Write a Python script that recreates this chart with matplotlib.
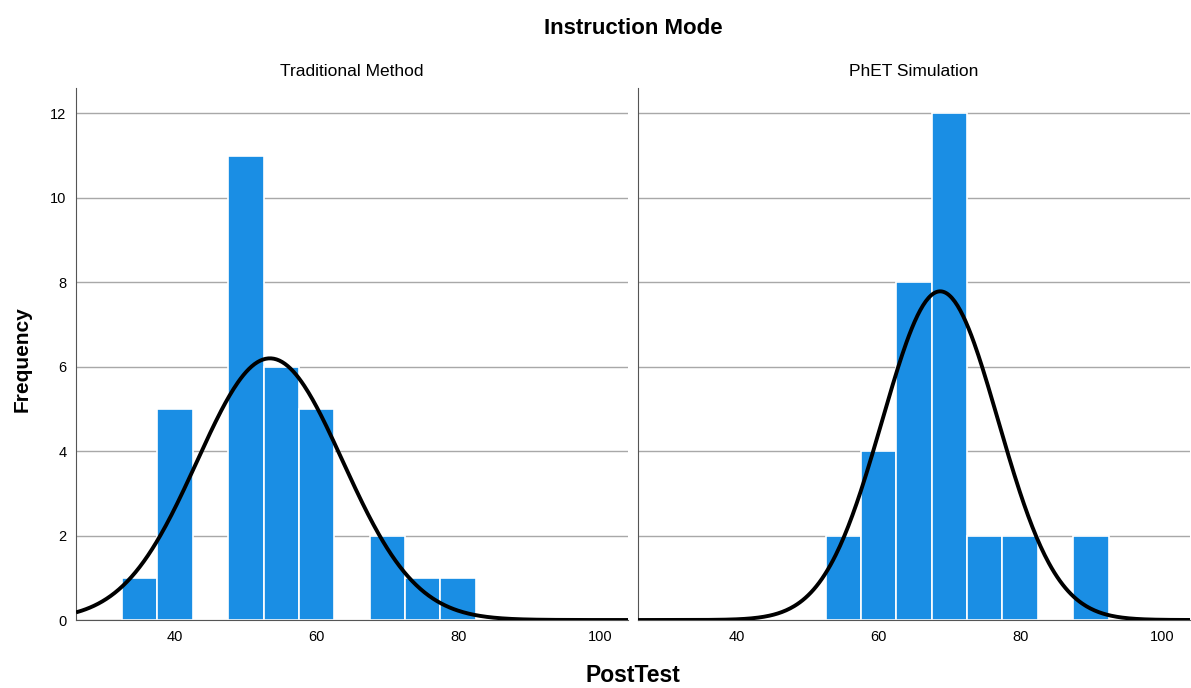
import numpy as np
import matplotlib.pyplot as plt

# DATA
bin_centers = [35, 40, 45, 50, 55, 60, 65, 70, 75, 80, 85, 90]
freq_traditional = [1, 5, 0, 11, 6, 5, 0, 2, 1, 1, 0, 0]
freq_phet = [0, 0, 0, 0, 2, 4, 8, 12, 2, 2, 0, 2]
panel_titles = ["Traditional Method", "PhET Simulation"]
# fitted normal curve parameters (mean, sd)
curve_mean = [53.4, 68.7]
curve_sd = [10.3, 8.2]
x_ticks = [40, 60, 80, 100]
y_ticks = [0, 2, 4, 6, 8, 10, 12]
bin_width = 5

plt.rcParams['font.family'] = ['Liberation Sans', 'DejaVu Sans']

BAR_COLOR = '#1a8ee4'

fig = plt.figure(figsize=(11.91, 6.88), dpi=100)

ax_left = fig.add_axes([76 / 1191, 1 - 620 / 688, 552 / 1191, 532 / 688])
ax_right = fig.add_axes([638 / 1191, 1 - 620 / 688, 552 / 1191, 532 / 688])

for i, (ax, freqs) in enumerate(zip([ax_left, ax_right], [freq_traditional, freq_phet])):
    n_total = sum(freqs)

    ax.set_axisbelow(True)
    ax.grid(axis='y', color='#a8a8a8', linewidth=1)

    ax.bar(
        bin_centers,
        freqs,
        width=bin_width,
        color=BAR_COLOR,
        edgecolor='white',
        linewidth=1.2,
        zorder=2
    )

    xs = np.linspace(26, 104, 400)
    ys = n_total * bin_width / (curve_sd[i] * np.sqrt(2 * np.pi)) * np.exp(
        -0.5 * ((xs - curve_mean[i]) / curve_sd[i]) ** 2
    )
    ax.plot(xs, ys, color='black', linewidth=2.8, zorder=3, solid_capstyle='butt')

    ax.set_xlim(26, 104)
    ax.set_ylim(0, 12.6)
    ax.set_xticks(x_ticks)
    ax.set_yticks(y_ticks)
    ax.tick_params(length=0, labelsize=10.5, pad=7)

    for side in ['top', 'right']:
        ax.spines[side].set_visible(False)
    ax.spines['left'].set_color('#555555')
    ax.spines['bottom'].set_color('#555555')

    ax.set_title(panel_titles[i], fontsize=12.5, pad=9)

ax_right.tick_params(labelleft=False)

fig.text(633 / 1191, 1 - 28 / 688, 'Instruction Mode', ha='center', va='center',
         fontsize=16, fontweight='bold')
fig.text(633 / 1191, 1 - 676 / 688, 'PostTest', ha='center', va='center',
         fontsize=16.5, fontweight='bold')
fig.text(22 / 1191, 1 - 359 / 688, 'Frequency', ha='center', va='center',
         rotation=90, fontsize=15, fontweight='bold')

fig.savefig('out.png', dpi=100)
